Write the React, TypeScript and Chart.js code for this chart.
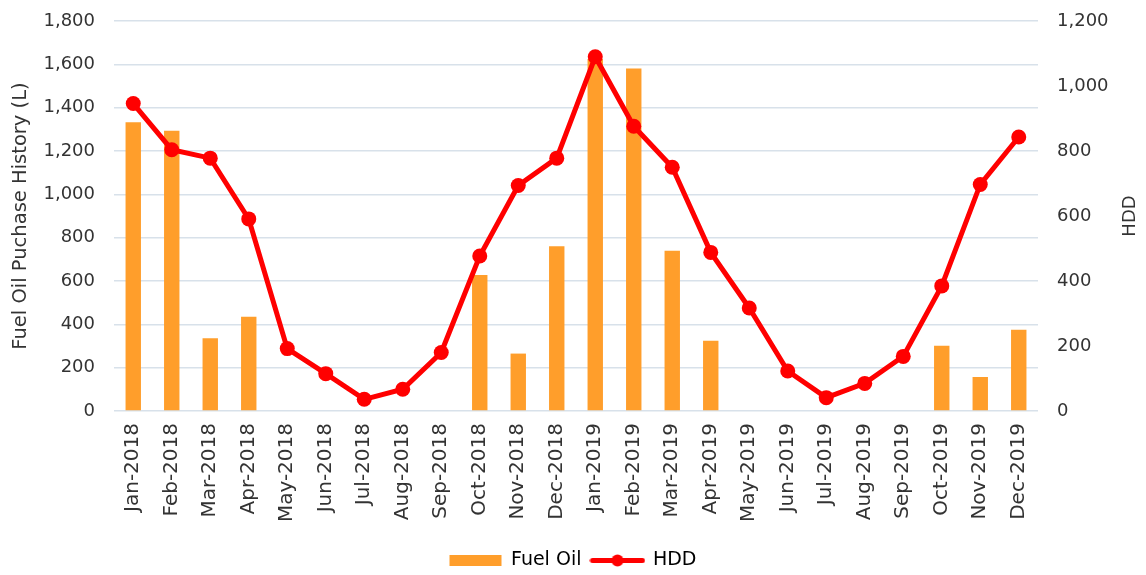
import React, { useEffect, useRef } from "react";
import { Chart, registerables } from "chart.js";

Chart.register(...registerables);

const categories = [
  "Jan-2018", "Feb-2018", "Mar-2018", "Apr-2018", "May-2018", "Jun-2018",
  "Jul-2018", "Aug-2018", "Sep-2018", "Oct-2018", "Nov-2018", "Dec-2018",
  "Jan-2019", "Feb-2019", "Mar-2019", "Apr-2019", "May-2019", "Jun-2019",
  "Jul-2019", "Aug-2019", "Sep-2019", "Oct-2019", "Nov-2019", "Dec-2019",
];

const fuelOil = [
  1333, 1294, 336, 435, 0, 0, 0, 0, 0, 628, 265, 760,
  1625, 1581, 740, 324, 0, 0, 0, 0, 0, 301, 157, 375,
];

const hdd = [
  946, 804, 778, 591, 192, 115, 36, 67, 180, 477, 694, 778,
  1090, 876, 750, 488, 317, 123, 41, 85, 168, 385, 697, 843,
];

const leftTicks = { min: 0, max: 1800, step: 200 };
const rightTicks = { min: 0, max: 1200, step: 200 };

const leftTitle = "Fuel Oil Puchase History (L)";
const rightTitle = "HDD";

const FONT = "'DejaVu Sans', sans-serif";
const TEXT = "#333333";
const ORANGE = "#FF9E2B";
const RED = "#FF0000";
const GRID = "#D8E1EA";

function makeLineLegendIcon(): HTMLCanvasElement {
  const c = document.createElement("canvas");
  c.width = 56;
  c.height = 15;
  const ctx = c.getContext("2d")!;
  ctx.strokeStyle = RED;
  ctx.lineWidth = 5;
  ctx.lineCap = "round";
  ctx.beginPath();
  ctx.moveTo(3, 7.5);
  ctx.lineTo(53, 7.5);
  ctx.stroke();
  ctx.fillStyle = RED;
  ctx.beginPath();
  ctx.arc(28, 7.5, 6, 0, Math.PI * 2);
  ctx.fill();
  return c;
}

const rightTitlePlugin = {
  id: "rightTitle",
  afterDraw(chart: any) {
    const { ctx, chartArea } = chart;
    ctx.save();
    ctx.fillStyle = TEXT;
    ctx.font = `18px ${FONT}`;
    ctx.textAlign = "center";
    ctx.textBaseline = "middle";
    ctx.translate(1122, (chartArea.top + chartArea.bottom) / 2);
    ctx.rotate(-Math.PI / 2);
    ctx.fillText(rightTitle, 0, 0);
    ctx.restore();
  },
};

export default function App() {
  const ref = useRef<HTMLCanvasElement | null>(null);

  useEffect(() => {
    if (!ref.current) return;
    const lineIcon = makeLineLegendIcon();
    const chart = new Chart(ref.current, {
      type: "bar",
      data: {
        labels: categories,
        datasets: [
          {
            type: "line",
            label: "HDD",
            data: hdd,
            yAxisID: "y1",
            borderColor: RED,
            backgroundColor: RED,
            borderWidth: 5,
            pointRadius: 7.5,
            pointBackgroundColor: RED,
            pointBorderWidth: 0,
            tension: 0,
            order: 0,
          } as any,
          {
            type: "bar",
            label: "Fuel Oil",
            data: fuelOil,
            yAxisID: "y",
            backgroundColor: ORANGE,
            borderWidth: 0,
            barPercentage: 0.4,
            categoryPercentage: 1,
            order: 1,
          },
        ],
      },
      plugins: [rightTitlePlugin],
      options: {
        responsive: true,
        maintainAspectRatio: false,
        animation: false,
        layout: { padding: { top: 13, left: 0, right: 0, bottom: -13 } },
        plugins: {
          tooltip: { enabled: false },
          legend: {
            position: "bottom",
            labels: {
              usePointStyle: true,
              pointStyleWidth: 52,
              boxHeight: 11,
              padding: 10,
              color: TEXT,
              font: { family: FONT, size: 19 },
              generateLabels: () => [
                {
                  text: "Fuel Oil",
                  fillStyle: ORANGE,
                  strokeStyle: ORANGE,
                  lineWidth: 0,
                  pointStyle: "rect",
                  hidden: false,
                  datasetIndex: 1,
                } as any,
                {
                  text: "HDD",
                  fillStyle: RED,
                  strokeStyle: RED,
                  lineWidth: 0,
                  pointStyle: lineIcon,
                  hidden: false,
                  datasetIndex: 0,
                } as any,
              ],
            },
          },
        },
        scales: {
          x: {
            grid: { display: false, drawTicks: false },
            border: { display: false },
            ticks: {
              color: TEXT,
              font: { family: FONT, size: 20 },
              maxRotation: 90,
              minRotation: 90,
              padding: 12,
              autoSkip: false,
            },
            afterFit: (scale: any) => {
              scale.height = 130;
            },
          },
          y: {
            position: "left",
            min: leftTicks.min,
            max: leftTicks.max,
            ticks: {
              stepSize: leftTicks.step,
              color: TEXT,
              font: { family: FONT, size: 18 },
              padding: 0,
            },
            grid: {
              color: GRID,
              lineWidth: 1.5,
              drawTicks: true,
              tickLength: 19,
              tickColor: "rgba(0,0,0,0)",
            },
            border: { display: false },
            title: {
              display: true,
              text: leftTitle,
              color: TEXT,
              font: { family: FONT, size: 19.5 },
              padding: { top: 1, bottom: 0 },
            },
            afterFit: (scale: any) => {
              scale.width = 106;
            },
          },
          y1: {
            position: "right",
            min: rightTicks.min,
            max: rightTicks.max,
            ticks: {
              stepSize: rightTicks.step,
              color: TEXT,
              font: { family: FONT, size: 18 },
              padding: 0,
            },
            grid: {
              display: true,
              drawOnChartArea: false,
              drawTicks: true,
              tickLength: 19,
              tickColor: "rgba(0,0,0,0)",
            },
            border: { display: false },
            afterFit: (scale: any) => {
              scale.width = 100;
            },
          },
        },
      },
    });
    return () => chart.destroy();
  }, []);

  return (
    <div style={{ width: 1130, height: 559, position: "relative" }}>
      <canvas ref={ref} />
    </div>
  );
}
